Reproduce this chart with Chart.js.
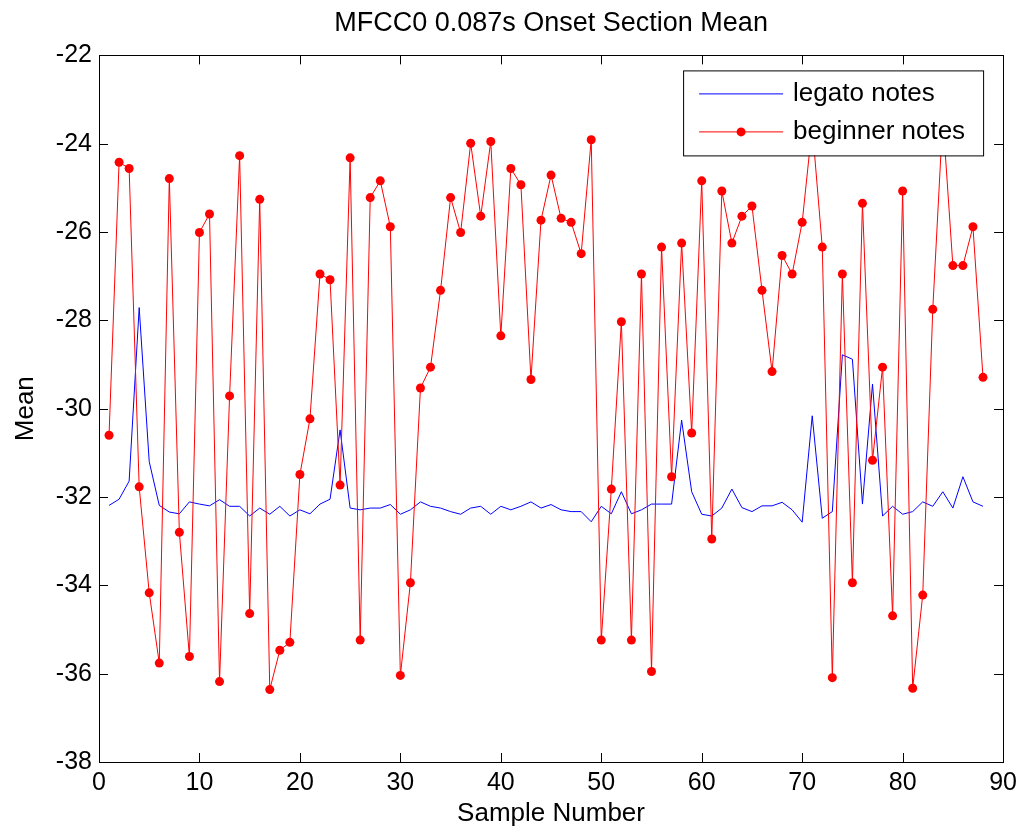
<!DOCTYPE html>
<html>
<head>
<meta charset="utf-8">
<title>MFCC0 0.087s Onset Section Mean</title>
<script src="https://cdn.jsdelivr.net/npm/chart.js@4"></script>
<style>
  html, body { margin: 0; padding: 0; background: #fff; }
  #wrap { width: 1023px; height: 832px; position: relative; }
</style>
</head>
<body>
<div id="wrap"><canvas id="mfccChart"></canvas></div>
<script>
// sample index on the x axis
const sampleNumbers = [
  1, 2, 3, 4, 5, 6, 7, 8, 9, 10, 11, 12, 13, 14, 15, 16, 17, 18, 19, 20,
  21, 22, 23, 24, 25, 26, 27, 28, 29, 30, 31, 32, 33, 34, 35, 36, 37, 38, 39, 40,
  41, 42, 43, 44, 45, 46, 47, 48, 49, 50, 51, 52, 53, 54, 55, 56, 57, 58, 59, 60,
  61, 62, 63, 64, 65, 66, 67, 68, 69, 70, 71, 72, 73, 74, 75, 76, 77, 78, 79, 80,
  81, 82, 83, 84, 85, 86, 87, 88
];

const legatoMeans = [
  -32.19, -32.05, -31.64, -27.71, -31.20, -32.19, -32.34, -32.38, -32.11, -32.16,
  -32.20, -32.06, -32.21, -32.21, -32.43, -32.25, -32.39, -32.21, -32.43, -32.29,
  -32.38, -32.16, -32.05, -30.48, -32.25, -32.29, -32.25, -32.25, -32.17, -32.39,
  -32.29, -32.11, -32.21, -32.25, -32.33, -32.39, -32.25, -32.21, -32.39, -32.21,
  -32.29, -32.21, -32.11, -32.25, -32.17, -32.29, -32.33, -32.33, -32.56, -32.21,
  -32.38, -31.88, -32.38, -32.29, -32.16, -32.16, -32.16, -30.26, -31.88, -32.39,
  -32.43, -32.25, -31.82, -32.24, -32.33, -32.20, -32.20, -32.12, -32.29, -32.57,
  -30.16, -32.48, -32.33, -28.78, -28.88, -32.16, -29.44, -32.43, -32.21, -32.39,
  -32.33, -32.11, -32.21, -31.88, -32.25, -31.54, -32.11, -32.21
];

const beginnerMeans = [
  -30.60, -24.42, -24.56, -31.77, -34.17, -35.76, -24.79, -32.80, -35.61, -26.01,
  -25.59, -36.18, -29.71, -24.27, -34.64, -25.26, -36.36, -35.47, -35.29, -31.49,
  -30.23, -26.95, -27.08, -31.73, -24.32, -35.24, -25.22, -24.84, -25.88, -36.04,
  -33.94, -29.53, -29.06, -27.32, -25.22, -26.01, -23.99, -25.64, -23.95, -28.35,
  -24.56, -24.93, -29.34, -25.73, -24.71, -25.69, -25.78, -26.49, -23.91, -35.24,
  -31.82, -28.03, -35.24, -26.95, -35.95, -26.34, -31.54, -26.25, -30.55, -24.84,
  -32.95, -25.07, -26.25, -25.64, -25.41, -27.32, -29.16, -26.53, -26.95, -25.78,
  -23.60, -26.34, -36.09, -26.95, -33.94, -25.35, -31.17, -29.06, -34.69, -25.07,
  -36.33, -34.22, -27.75, -23.40, -26.76, -26.76, -25.88, -29.29
];

const seriesNames = ['legato notes', 'beginner notes'];
const xTicks = [0, 10, 20, 30, 40, 50, 60, 70, 80, 90];
const yTicks = [-38, -36, -34, -32, -30, -28, -26, -24, -22];

const FONT = "'Liberation Sans', Arial, sans-serif";

// frame box with inward ticks, like the matlab axes
const framePlugin = {
  id: 'frame',
  afterDatasetsDraw(chart) {
    const { ctx, chartArea: a, scales } = chart;
    const tl = 9;
    ctx.save();
    ctx.strokeStyle = '#000';
    ctx.lineWidth = 1;
    ctx.beginPath();
    scales.x.ticks.forEach(t => {
      const px = Math.round(scales.x.getPixelForValue(t.value)) + 0.5;
      ctx.moveTo(px, a.bottom); ctx.lineTo(px, a.bottom - tl);
      ctx.moveTo(px, a.top); ctx.lineTo(px, a.top + tl);
    });
    scales.y.ticks.forEach(t => {
      const py = Math.round(scales.y.getPixelForValue(t.value)) + 0.5;
      ctx.moveTo(a.left, py); ctx.lineTo(a.left + tl, py);
      ctx.moveTo(a.right, py); ctx.lineTo(a.right - tl, py);
    });
    ctx.stroke();
    ctx.strokeRect(Math.round(a.left) + 0.5, Math.round(a.top) + 0.5,
      Math.round(a.right - a.left), Math.round(a.bottom - a.top));
    ctx.restore();
  }
};

// legend box in the upper right corner of the axes
const boxLegend = {
  id: 'boxLegend',
  afterDraw(chart) {
    const { ctx, chartArea: a } = chart;
    const right = a.right - 20, top = a.top + 15;
    const w = 300, h = 85;
    const left = right - w;
    ctx.save();
    ctx.fillStyle = '#fff';
    ctx.fillRect(left, top, w, h);
    ctx.strokeStyle = '#000';
    ctx.lineWidth = 1;
    ctx.strokeRect(left + 0.5, top + 0.5, w, h);

    const rows = [top + 23, top + 61];
    chart.data.datasets.forEach((ds, i) => {
      const y = rows[i] + 0.5;
      ctx.strokeStyle = ds.borderColor;
      ctx.lineWidth = 1;
      ctx.beginPath();
      ctx.moveTo(left + 16, y);
      ctx.lineTo(left + 100, y);
      ctx.stroke();
      if (ds.pointRadius > 0) {
        ctx.fillStyle = ds.pointBackgroundColor;
        ctx.beginPath();
        ctx.arc(left + 58, y, ds.pointRadius, 0, Math.PI * 2);
        ctx.fill();
      }
      ctx.fillStyle = '#000';
      ctx.font = '26px ' + FONT;
      ctx.textBaseline = 'middle';
      ctx.textAlign = 'left';
      ctx.fillText(ds.label, left + 110, y);
    });
    ctx.restore();
  }
};

const ctx = document.getElementById('mfccChart').getContext('2d');

new Chart(ctx, {
  type: 'line',
  data: {
    labels: sampleNumbers,
    datasets: [
      {
        label: seriesNames[0],
        data: legatoMeans,
        borderColor: '#0000ff',
        borderWidth: 1,
        pointRadius: 0,
        tension: 0,
        order: 1
      },
      {
        label: seriesNames[1],
        data: beginnerMeans,
        borderColor: '#ff0000',
        borderWidth: 1,
        pointRadius: 4.5,
        pointBackgroundColor: '#ff0000',
        pointBorderWidth: 0,
        tension: 0,
        order: 0
      }
    ]
  },
  options: {
    responsive: true,
    maintainAspectRatio: false,
    animation: false,
    layout: { padding: { left: 0, right: 17, top: 0, bottom: 0 } },
    plugins: {
      legend: { display: false },
      tooltip: { enabled: false },
      title: {
        display: true,
        fullSize: false,
        text: 'MFCC0 0.087s Onset Section Mean',
        color: '#000',
        font: { family: FONT, size: 27, weight: 'normal', lineHeight: 1.2 },
        padding: { top: 7, bottom: 16 }
      }
    },
    scales: {
      x: {
        type: 'linear',
        min: 0,
        max: 90,
        afterBuildTicks(scale) { scale.ticks = xTicks.map(v => ({ value: v })); },
        afterFit(scale) { scale.height = 70; },
        grid: { display: false, drawTicks: false },
        border: { display: false },
        ticks: { color: '#000', padding: 6, font: { family: FONT, size: 25 } },
        title: {
          display: true,
          text: 'Sample Number',
          color: '#000',
          font: { family: FONT, size: 26 },
          padding: { top: 0, bottom: 3 }
        }
      },
      y: {
        min: -38,
        max: -22,
        afterBuildTicks(scale) { scale.ticks = yTicks.map(v => ({ value: v })); },
        afterFit(scale) { scale.width = 99; },
        grid: { display: false, drawTicks: false },
        border: { display: false },
        ticks: { color: '#000', padding: 7, font: { family: FONT, size: 25 } },
        title: {
          display: true,
          text: 'Mean',
          color: '#000',
          font: { family: FONT, size: 26 },
          padding: { top: 10, bottom: 0 }
        }
      }
    }
  },
  plugins: [framePlugin, boxLegend]
});
</script>
</body>
</html>
